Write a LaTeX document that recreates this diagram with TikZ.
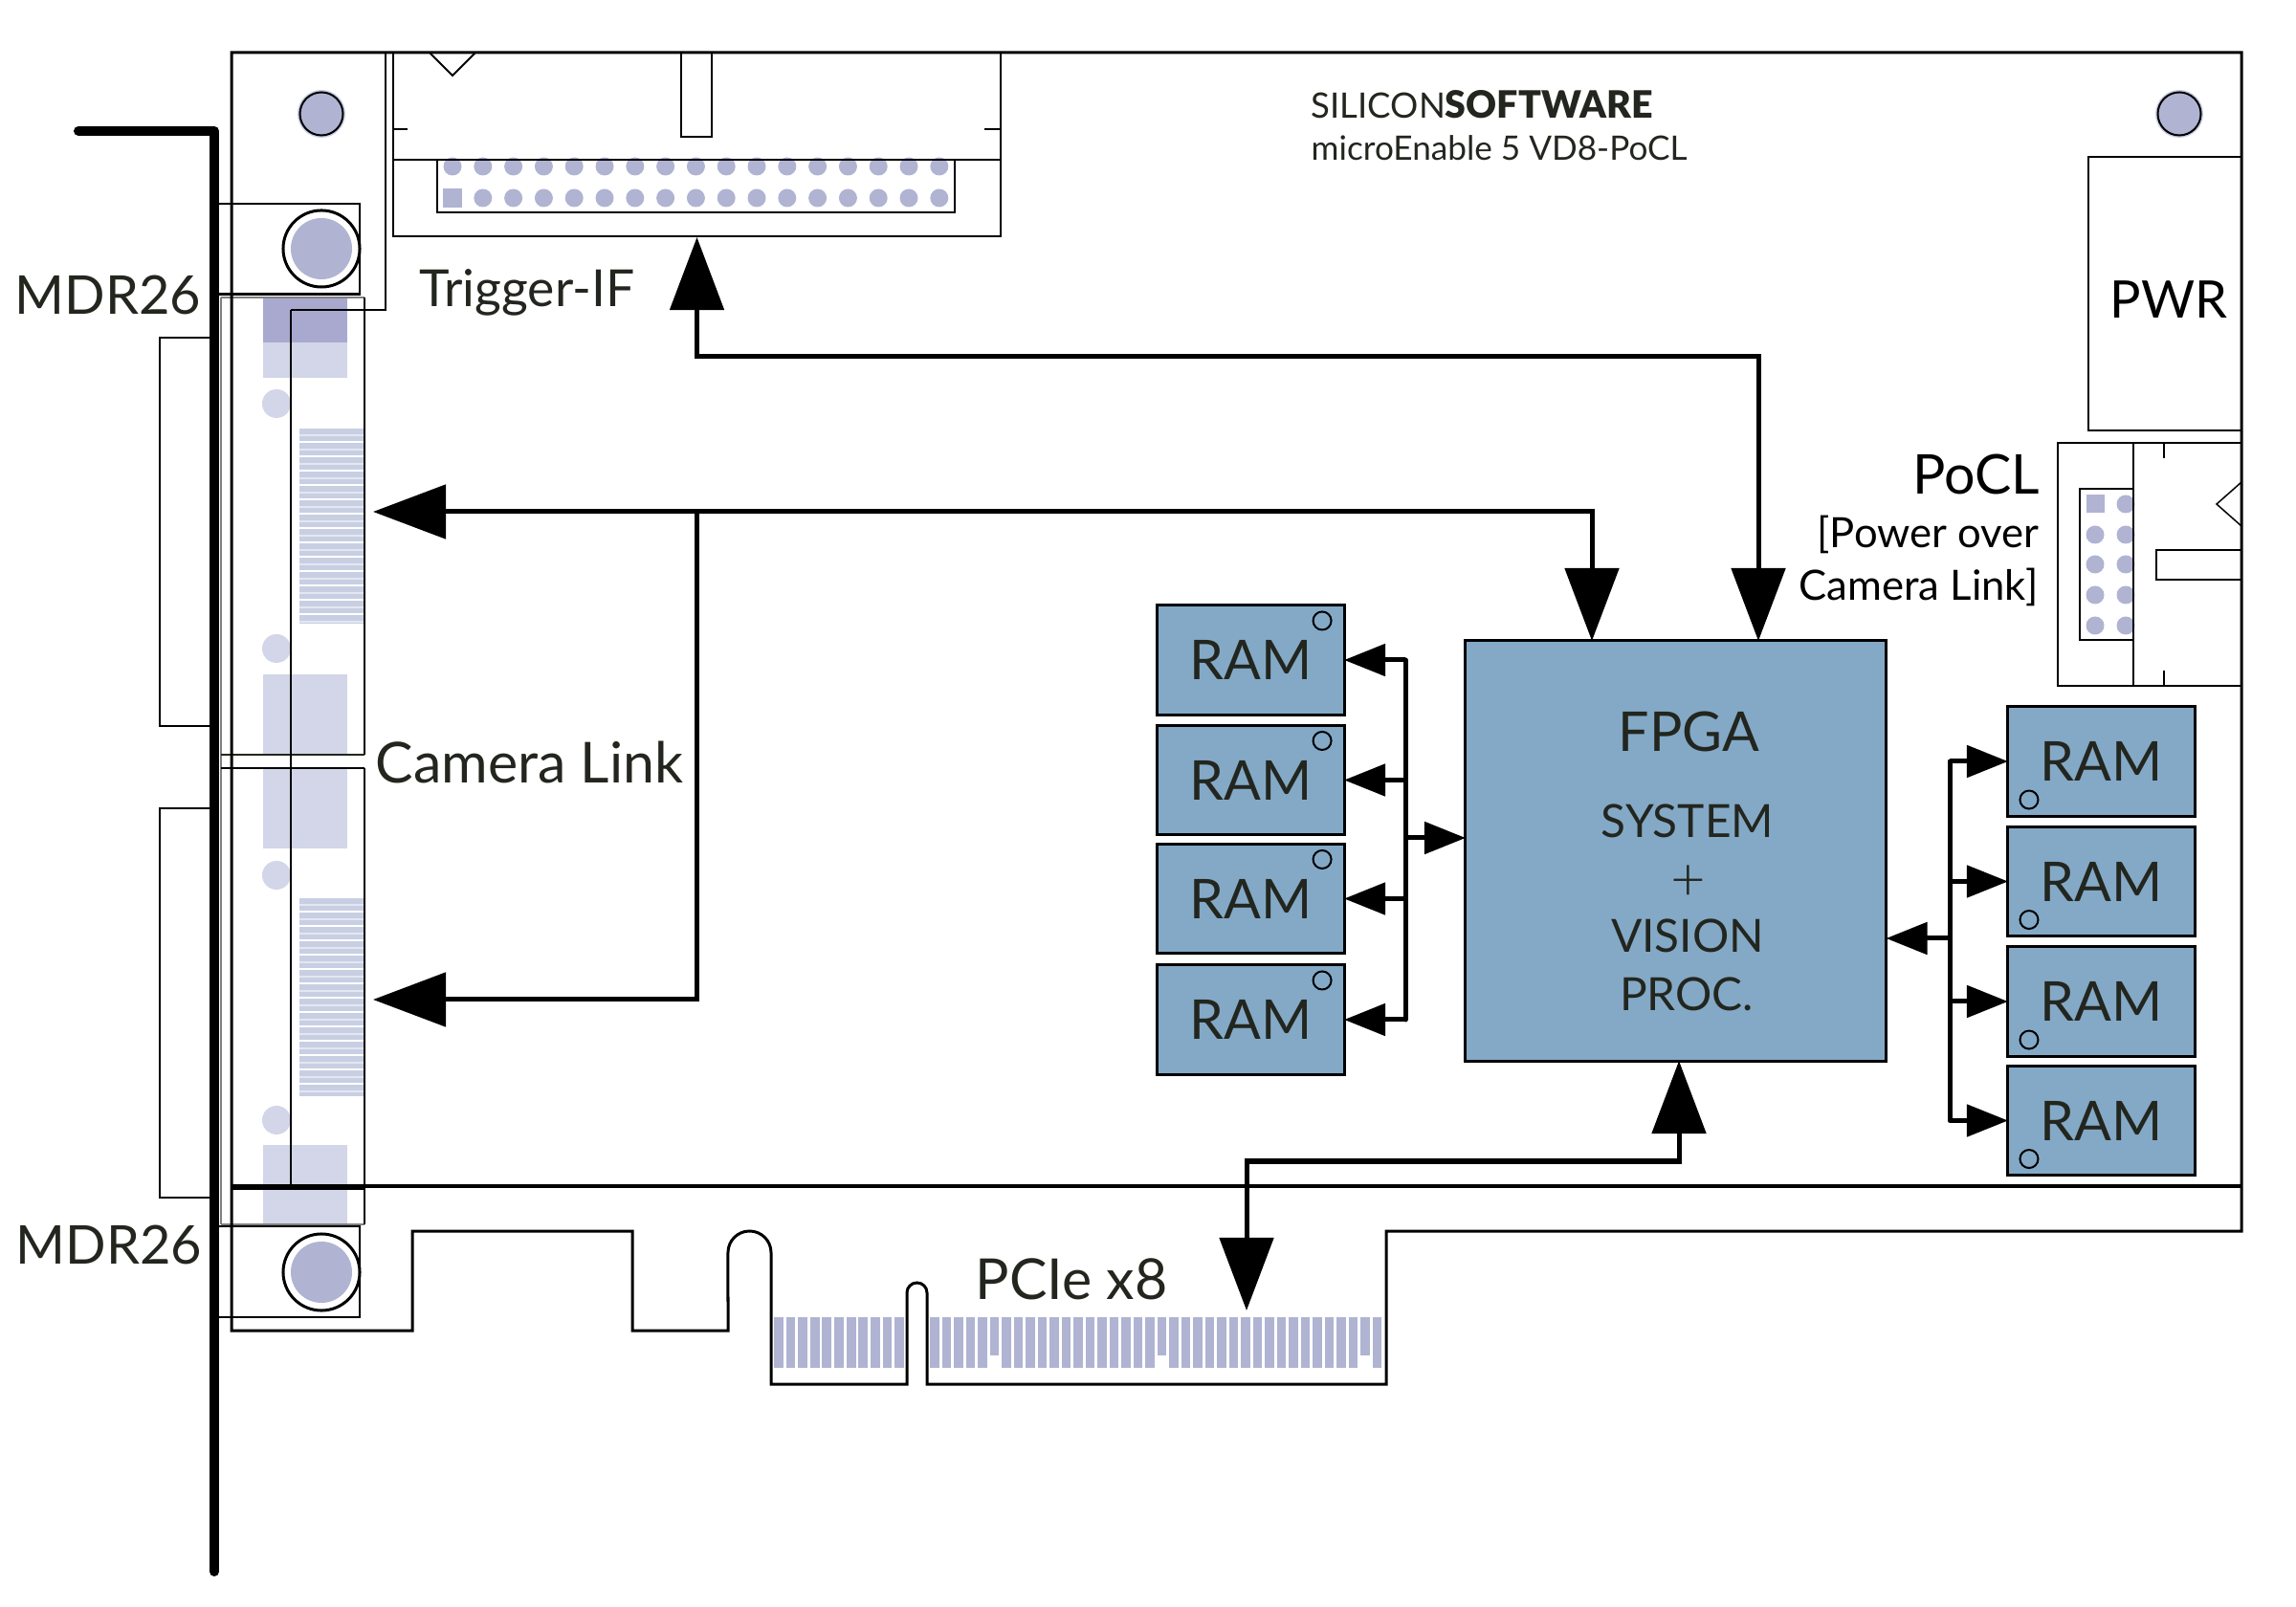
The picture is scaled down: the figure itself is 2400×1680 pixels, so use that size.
\documentclass[tikz,border=0pt]{standalone}
\usepackage{fontspec}
\setmainfont{Lato}
\newfontfamily\heavyfont{Lato Black}
\newfontfamily\lightfont{Lato Light}
\usetikzlibrary{arrows.meta}
\definecolor{pinblue}{HTML}{B0B4D2}
\definecolor{pinhalo}{HTML}{C9CCE2}
\definecolor{slotlight}{HTML}{D2D6E8}
\definecolor{slotstripe}{HTML}{C9CFE3}
\definecolor{slotdark}{HTML}{A9A9D0}
\definecolor{chipblue}{HTML}{83A9C7}
\definecolor{ink}{HTML}{23261E}
\tikzset{
    boardline/.style={line width=0.03cm},
    thinline/.style={line width=0.02cm},
    hairline/.style={line width=0.015cm},
    partbox/.style={draw, thinline, inner sep=0},
    ramblock/.style={draw, boardline, fill=chipblue, minimum width=1.95cm, minimum height=1.14cm,
        inner sep=0, outer sep=0, font=\fontsize{16.3}{18}\selectfont, text=ink},
    lbl/.style={inner sep=0, font=\fontsize{16.3}{18}\selectfont, text=ink},
    sublbl/.style={inner sep=0, font=\fontsize{12.4}{14}\selectfont, text=ink},
    chiplbl/.style={inner sep=0, font=\fontsize{13.6}{15}\selectfont, text=ink},
    bigarrow/.style={line width=0.05cm, -{Triangle[length=7.6mm,width=5.6mm]}},
    bigboth/.style={line width=0.05cm, {Triangle[length=7.6mm,width=5.6mm]}-{Triangle[length=7.6mm,width=5.6mm]}},
    smallarrow/.style={line width=0.05cm, -{Triangle[length=4.3mm,width=3.3mm]}},
    bus/.style={line width=0.05cm, line cap=round},
}
\begin{document}
\begin{tikzpicture}[x=0.01cm, y=-0.01cm]
    \useasboundingbox (0,0) rectangle (2400,1680);
    % camera link connectors seen from above
    \fill[slotdark] (274.5,311) rectangle (363,358);
    \fill[slotlight] (274.5,358) rectangle (363,395);
    \fill[slotlight] (274.5,705) rectangle (363,887);
    \fill[slotlight] (274.5,1197) rectangle (363,1279);
    \foreach \y in {422,678,915,1171}
        \fill[slotlight] (289,\y) circle[radius=0.15cm];
    \foreach \ytop/\ybot in {448/652,939/1146} {
        \fill[slotstripe] (313,\ytop) rectangle (380,\ybot);
        \foreach \y in {\ytop,...,\ybot} {
            \pgfmathparse{int(mod(\y-\ytop,15))}
            \ifnum\pgfmathresult=13 \fill[white] (313,\y) rectangle (380,\y+2); \fi
            \ifnum\pgfmathresult=6 \fill[slotlight!60!white] (313,\y) rectangle (380,\y+2); \fi
        }
    }
    \fill[white] (231,789) rectangle (381,803);
    \draw[hairline, gray] (231,311) -- (381,311);
    \draw[hairline, gray] (231,1280) -- (381,1280);
    \draw[hairline] (381,311) -- (381,789);
    \draw[hairline] (381,803) -- (381,1280);
    \draw[hairline, gray] (231,311) -- (231,1280);
    \draw[thinline, ink] (231,789) -- (381,789);
    \draw[thinline] (231,803) -- (381,803);
    % outer shells behind the bracket
    \draw[thinline] (224,353) -- (167,353) -- (167,759) -- (224,759);
    \draw[thinline] (224,845) -- (167,845) -- (167,1252) -- (224,1252);
    % board outline
    \draw[boardline] (242,55) -- (2343,55) -- (2343,1287) -- (1449,1287) -- (1449,1447) -- (969,1447)
        -- (969,1351.5) arc[start angle=0, end angle=180, radius=0.105cm] -- (948,1447)
        -- (806,1447) -- (806,1309.5) arc[start angle=0, end angle=180, radius=0.225cm]
        -- (761,1391) -- (661,1391) -- (661,1287) -- (431,1287) -- (431,1391) -- (242,1391) -- cycle;
    \draw[boardline] (242,1240) -- (2343,1240);
    \draw[line width=0.05cm] (242,1241) -- (381,1241);
    \draw[line width=0.025cm] (304,324) -- (304,1240);
    \draw[thinline] (304,324) -- (403,324) -- (403,55);
    % mounting screws
    \foreach \x in {336,2278} {
        \fill[pinhalo] (\x,119) circle[radius=0.25cm];
        \draw[thinline, fill=pinblue] (\x,119) circle[radius=0.225cm];
    }
    \foreach \ytop/\y in {213/260,1282/1330} {
        \draw[thinline] (224,\ytop) -- (376,\ytop) -- (376,\ytop+95) -- (224,\ytop+95);
        \draw[boardline] (336,\y) circle[radius=0.4cm];
        \fill[pinblue] (336,\y) circle[radius=0.32cm];
    }
    \draw[boardline] (224,308) -- (376,308);
    % front bracket
    \draw[line width=0.1cm, line cap=round, line join=round] (82,137) -- (224,137) -- (224,1643);
    % trigger header
    \foreach \x in {1,...,16}
        \fill[pinblue] (473+31.8*\x,207) circle[radius=0.095cm];
    \fill[pinblue] (463,197) rectangle (483,217);
    \foreach \x in {0,...,16}
        \fill[pinblue] (473+31.8*\x,174) circle[radius=0.095cm];
    \node[partbox, minimum width=6.35cm, minimum height=1.92cm] (trigger) at (728.5,151) {};
    \draw[thinline] (411,167) -- (1046,167);
    \draw[thinline] (457,167) -- (457,222) -- (998,222) -- (998,167);
    \draw[thinline] (449,55) -- (473,79) -- (497,55);
    \draw[thinline] (712,55) -- (712,143) -- (744,143) -- (744,55);
    \draw[thinline] (411,135) -- (426,135);
    \draw[thinline] (1046,135) -- (1029,135);
    % power connector
    \node[partbox, minimum width=1.6cm, minimum height=2.86cm] (pwr) at (2263,307) {};
    % pocl header
    \fill[pinblue] (2180.5,517.5) rectangle (2199.5,536.5);
    \foreach \y in {559,590,622,654}
        \fill[pinblue] (2190,\y) circle[radius=0.095cm];
    \foreach \y in {527,559,590,622,654}
        \fill[pinblue] (2222,\y) circle[radius=0.095cm];
    \node[partbox, minimum width=1.92cm, minimum height=2.54cm] (pocl) at (2247,590) {};
    \draw[hairline] (2230,463) -- (2230,717);
    \draw[thinline] (2230,511) -- (2174,511) -- (2174,669) -- (2230,669);
    \draw[hairline] (2262,463) -- (2262,479);
    \draw[hairline] (2262,701) -- (2262,717);
    \draw[hairline] (2343,504) -- (2317,527) -- (2343,550);
    \draw[thinline] (2343,575) -- (2254,575) -- (2254,606) -- (2343,606);
    % pcie fingers
    \foreach \i in {0,...,10}
        \fill[pinblue] (809+12.62*\i,1377) rectangle ++(9.8,53);
    \foreach \i in {0,...,37} {
        \pgfmathsetmacro\fingerend{(\i==5||\i==19||\i==36) ? 1417 : 1430}
        \fill[pinblue] (972+12.5*\i,1377) rectangle (981.5+12.5*\i,\fingerend);
    }
    % chips
    \node[draw, boardline, fill=chipblue, minimum width=4.395cm, minimum height=4.39cm, inner sep=0, outer sep=0] (fpga) at (1751.75,889.5) {};
    \foreach \n/\y in {1/690,2/815.5,3/939.5,4/1066} {
        \node[ramblock] (lram\n) at (1307.5,\y) {RAM};
        \draw[thinline] ([shift={(-23,16)}]lram\n.north east) circle[radius=0.095cm];
    }
    \foreach \n/\y in {1/796,2/921.5,3/1047,4/1171.5} {
        \node[ramblock] (rram\n) at (2196.5,\y) {RAM};
        \draw[thinline] ([shift={(22,-17)}]rram\n.south west) circle[radius=0.095cm];
    }
    % ports
    \coordinate (clportA) at (390,535);
    \coordinate (clportB) at (390,1045);
    \coordinate (clfpga) at (1664,670);
    \coordinate (trigbend) at (1838,373);
    \coordinate (trigfpga) at (1838,670);
    \coordinate (pciefpga) at (1755,1109);
    \coordinate (pciebend) at (1303,1214);
    \coordinate (pcieport) at (1303,1370);
    \coordinate (lbusfpga) at (1532,876);
    \coordinate (rbusfpga) at (1971.5,981);
    % connectors
    \draw[bigboth] (trigger.south) |- (trigbend) -- (trigfpga);
    \draw[bigboth] (clportA) -| (clfpga);
    \draw[bigarrow] (trigger.south |- clportA) |- (clportB);
    \draw[bigboth] (pciefpga) |- (pciebend) -- (pcieport);
    \draw[bus] (1469,0 |- lram1.east) -- (1469,0 |- lram4.east);
    \foreach \n in {1,...,4}
        \draw[smallarrow] (1469,0 |- lram\n.east) -- (lram\n.east);
    \draw[smallarrow] (1469,0 |- lbusfpga) -- (lbusfpga);
    \draw[bus] (2038,0 |- rram1.west) -- (2038,0 |- rram4.west);
    \foreach \n in {1,...,4}
        \draw[smallarrow] (2038,0 |- rram\n.west) -- (rram\n.west);
    \draw[smallarrow] (2038,0 |- rbusfpga) -- (rbusfpga);
    % labels
    \node[lbl, anchor=base, font=\fontsize{15.9}{18}\selectfont] (mdrtoplbl) at (113,329) {MDR26};
    \node[lbl, anchor=base, font=\fontsize{15.9}{18}\selectfont] (mdrbotlbl) at (114,1321) {MDR26};
    \node[lbl, anchor=base, font=\fontsize{15.2}{18}\selectfont] (triglbl) at (551,321) {Trigger-IF};
    \node[lbl, anchor=base, font=\fontsize{16.8}{18}\selectfont] (cllbl) at (553.5,819) {Camera Link};
    \node[lbl, anchor=base, font=\fontsize{16.8}{18}\selectfont] (pcielbl) at (1120,1358) {PCIe x8};
    \node[lbl, anchor=base, text=black, font=\fontsize{15.4}{18}\selectfont] (pwrlbl) at (2267,333) {PWR};
    \node[lbl, anchor=base east, text=black] (pocllbl) at (2133,517) {PoCL};
    \node[sublbl, anchor=base east, text=black] (powerlbl) at (2132,573) {[Power over};
    \node[sublbl, anchor=base east, text=black] (linklbl) at (2131,628) {Camera Link]};
    \node[lbl, anchor=base] (fpgalbl) at (1765.5,786) {FPGA};
    \node[chiplbl, anchor=base] (systemlbl) at (1764,876) {SYSTEM};
    \node[inner sep=0, text=ink, font=\lightfont\fontsize{18}{20}\selectfont] (pluslbl) at (1765,923) {+};
    \node[chiplbl, anchor=base] (visionlbl) at (1764,996) {VISION};
    \node[chiplbl, anchor=base] (proclbl) at (1763,1057) {PROC.};
    \node[anchor=base west, inner sep=0, text=ink, font=\fontsize{10.4}{12}\selectfont] (brandlbl) at (1370,124) {SILICON{\heavyfont\fontsize{11.2}{12}\selectfont SOFTWARE}};
    \node[anchor=base west, inner sep=0, text=ink, font=\fontsize{10}{12}\selectfont] (modellbl) at (1370,168) {microEnable 5 VD8-PoCL};
\end{tikzpicture}
\end{document}
